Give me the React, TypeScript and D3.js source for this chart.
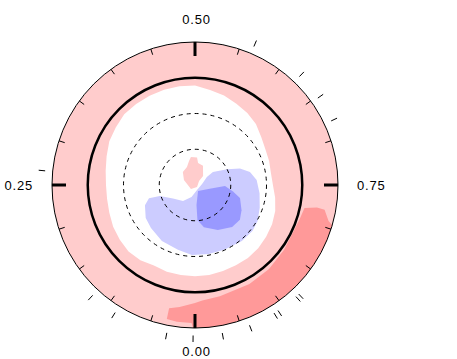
import React, { useEffect, useRef } from "react";
import * as d3 from "d3";

// quarter labels around the dial (phase 0 at the bottom, running clockwise)
const quarterPhases = [0, 0.25, 0.5, 0.75];
const quarterLabels = ["0.00", "0.25", "0.50", "0.75"];

// observed phases, drawn as a rug outside the dial
const rugPhases = [
  0.002, 0.03, 0.089, 0.119, 0.265, 0.564, 0.622, 0.652, 0.68, 0.879, 0.883,
  0.907, 0.912, 0.941, 0.971,
];

// reference rings, radial units
const dashedRings = [1, 2];
const solidRing = 3;
const outerRing = 4;

// level regions as [phase, radius] outlines
const zeroRegion: [number, number][] = [
  [0.0, 2.55], [0.025, 2.55], [0.05, 2.55], [0.075, 2.53], [0.1, 2.6],
  [0.125, 2.63], [0.15, 2.6], [0.175, 2.57], [0.2, 2.52], [0.225, 2.49],
  [0.25, 2.49], [0.275, 2.53], [0.3, 2.6], [0.325, 2.69], [0.35, 2.74],
  [0.375, 2.8], [0.4, 2.8], [0.425, 2.8], [0.45, 2.8], [0.475, 2.8],
  [0.5, 2.78], [0.525, 2.69], [0.55, 2.63], [0.575, 2.55], [0.6, 2.49],
  [0.625, 2.41], [0.65, 2.29], [0.675, 2.21], [0.7, 2.18], [0.725, 2.15],
  [0.75, 2.18], [0.775, 2.27], [0.8, 2.36], [0.825, 2.42], [0.85, 2.46],
  [0.875, 2.5], [0.9, 2.52], [0.925, 2.52], [0.95, 2.53], [0.975, 2.55],
];

const lowRegion: [number, number][] = [
  [0.189, 1.51], [0.205, 1.34], [0.202, 1.03], [0.163, 0.72], [0.102, 0.56],
  [0.045, 0.35], [0.939, 0.15], [0.727, 0.2], [0.656, 0.4], [0.65, 0.62],
  [0.678, 1.0], [0.694, 1.34], [0.713, 1.58], [0.737, 1.73], [0.77, 1.82],
  [0.804, 1.92], [0.833, 2.02], [0.857, 2.06], [0.889, 2.04], [0.931, 1.99],
  [0.969, 1.97], [0.007, 1.96], [0.041, 1.87], [0.085, 1.82], [0.127, 1.72],
  [0.156, 1.66],
];

const veryLowRegion: [number, number][] = [
  [0.926, 0.19], [0.784, 0.46], [0.755, 0.84], [0.777, 1.08], [0.795, 1.31],
  [0.829, 1.48], [0.855, 1.59], [0.885, 1.57], [0.925, 1.41], [0.967, 1.21],
  [0.989, 0.98], [0.988, 0.56],
];

const centreHighRegion: [number, number][] = [
  [0.477, 0.79], [0.512, 0.77], [0.522, 0.62], [0.563, 0.58], [0.616, 0.34],
  [0.625, 0.16], [0.875, 0.08], [0.125, 0.16], [0.25, 0.2], [0.318, 0.34],
  [0.381, 0.5], [0.433, 0.55], [0.461, 0.69],
];

// outer edge beyond the dial gets clipped to the circle
const veryHighRegion: [number, number][] = [
  [0.783, 3.13], [0.779, 3.47], [0.78, 3.69], [0.792, 3.87], [0.8, 4.2],
  [0.85, 4.2], [0.9, 4.2], [0.95, 4.2], [0.0, 4.2], [0.004, 3.86],
  [0.021, 3.86], [0.033, 3.83], [0.033, 3.52], [0.02, 3.44], [0.0, 3.3],
  [0.99, 3.24], [0.965, 3.19], [0.92, 3.16], [0.885, 3.13], [0.85, 3.08],
  [0.8, 3.08],
];

const colours = {
  veryLow: "#9999FF",
  low: "#CCCCFF",
  zero: "#FFFFFF",
  high: "#FFCCCC",
  veryHigh: "#FF9999",
};

const App = () => {
  const ref = useRef<SVGSVGElement>(null);

  useEffect(() => {
    const width = 457;
    const height = 359;
    const cx = 195;
    const cy = 185;
    const svg = d3.select(ref.current);
    svg.attr("width", width).attr("height", height);
    svg.selectAll("*").remove();

    const r = d3.scaleLinear().domain([0, outerRing]).range([0, 143]);
    const a = d3.scaleLinear().domain([0, 1]).range([Math.PI, 3 * Math.PI]);
    const R = r(outerRing);

    const xy = (p: number, rad: number) => [
      rad * Math.sin(a(p)),
      -rad * Math.cos(a(p)),
    ];

    const outline = d3
      .lineRadial<[number, number]>()
      .angle((d) => a(d[0]))
      .radius((d) => r(d[1]))
      .curve(d3.curveLinearClosed);

    const g = svg.append("g").attr("transform", `translate(${cx},${cy})`);

    g.append("clipPath")
      .attr("id", "dial")
      .append("circle")
      .attr("r", R);

    const fills = g.append("g").attr("clip-path", "url(#dial)");
    fills.append("circle").attr("r", R).attr("fill", colours.high);

    const regions: [[number, number][], string][] = [
      [zeroRegion, colours.zero],
      [lowRegion, colours.low],
      [veryLowRegion, colours.veryLow],
      [centreHighRegion, colours.high],
      [veryHighRegion, colours.veryHigh],
    ];
    fills
      .selectAll("path")
      .data(regions)
      .join("path")
      .attr("d", (d) => outline(d[0]))
      .attr("fill", (d) => d[1]);

    // rings
    g.selectAll("circle.dash")
      .data(dashedRings)
      .join("circle")
      .attr("class", "dash")
      .attr("r", (d) => r(d))
      .attr("fill", "none")
      .attr("stroke", "black")
      .attr("stroke-dasharray", "4,4");

    g.append("circle")
      .attr("r", r(solidRing))
      .attr("fill", "none")
      .attr("stroke", "black")
      .attr("stroke-width", 2.5);

    g.append("circle")
      .attr("r", R)
      .attr("fill", "none")
      .attr("stroke", "black")
      .attr("stroke-width", 1);

    // minor ticks every 0.05
    const minor = d3
      .range(0, 20)
      .map((i) => i / 20)
      .filter((p) => !quarterPhases.includes(p));
    g.selectAll("line.minor")
      .data(minor)
      .join("line")
      .attr("class", "minor")
      .attr("x1", (p) => xy(p, R)[0])
      .attr("y1", (p) => xy(p, R)[1])
      .attr("x2", (p) => xy(p, R - 6)[0])
      .attr("y2", (p) => xy(p, R - 6)[1])
      .attr("stroke", "black");

    g.selectAll("line.major")
      .data(quarterPhases)
      .join("line")
      .attr("class", "major")
      .attr("x1", (p) => xy(p, R)[0])
      .attr("y1", (p) => xy(p, R)[1])
      .attr("x2", (p) => xy(p, R - 14)[0])
      .attr("y2", (p) => xy(p, R - 14)[1])
      .attr("stroke", "black")
      .attr("stroke-width", 3);

    g.selectAll("line.rug")
      .data(rugPhases)
      .join("line")
      .attr("class", "rug")
      .attr("x1", (p) => xy(p, R + 7.5)[0])
      .attr("y1", (p) => xy(p, R + 7.5)[1])
      .attr("x2", (p) => xy(p, R + 14)[0])
      .attr("y2", (p) => xy(p, R + 14)[1])
      .attr("stroke", "black");

    // quarter labels
    const anchor = (p: number) =>
      p === 0.25 ? "end" : p === 0.75 ? "start" : "middle";
    const labelR = (p: number) => (p === 0.25 || p === 0.75 ? R + 19 : R + 23);
    g.selectAll("text")
      .data(quarterPhases)
      .join("text")
      .attr("x", (p) => xy(p, labelR(p))[0] + (p === 0 || p === 0.5 ? 1.5 : 0))
      .attr("y", (p) => xy(p, labelR(p))[1])
      .attr("dy", "0.36em")
      .attr("text-anchor", anchor)
      .attr("font-family", "'Liberation Sans', Arial, sans-serif")
      .attr("font-size", 13)
      .attr("letter-spacing", 0.8)
      .text((p, i) => quarterLabels[i]);
  }, []);

  return (
    <svg
      ref={ref}
      style={{ position: "absolute", left: 0, top: 0, display: "block" }}
    ></svg>
  );
};

export default App;
